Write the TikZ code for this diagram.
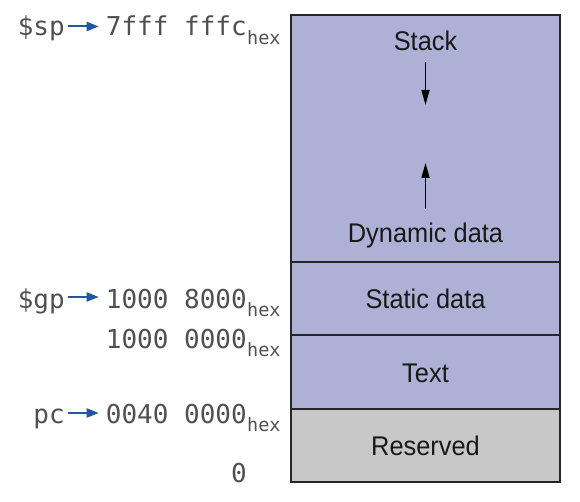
\documentclass[tikz,border=0pt]{standalone}
\usepackage{fontspec}
\setmainfont{Liberation Sans}
\newfontfamily\boxf[FakeStretch=0.94]{Liberation Sans}
\newfontfamily\monof{DejaVu Sans Mono}
\usetikzlibrary{arrows.meta}
\definecolor{purp}{RGB}{174,177,214}
\definecolor{resgray}{RGB}{200,200,200}
\definecolor{arrblue}{RGB}{30,88,164}
\definecolor{labgray}{RGB}{80,80,80}
\tikzset{
  seg/.style={draw=black!85, line width=1.5pt, minimum width=269pt, inner sep=0pt},
  seglbl/.style={font=\boxf\fontsize{27}{31}\selectfont, inner sep=0pt, anchor=base, text=black!90},
  numlbl/.style={font=\monof\fontsize{26}{30}\selectfont, inner sep=0pt, text=labgray},
  hexlbl/.style={font=\monof\fontsize{18.5}{22}\selectfont, inner sep=0pt, text=labgray, anchor=base west},
  reglbl/.style={font=\monof\fontsize{26}{30}\selectfont, inner sep=0pt, text=labgray, anchor=base east},
  barrow/.style={draw=arrblue, line width=2pt, -{Triangle[length=12pt,width=9pt]}},
  karrow/.style={draw=black, line width=1.6pt, -{Triangle[length=15pt,width=8pt]}}
}
\begin{document}
\begin{tikzpicture}[x=1pt,y=-1pt]
\useasboundingbox (0,0) rectangle (580,502);
% memory segments
\node[seg, fill=purp, minimum height=247pt] (sdyn) at (425.5,138.5) {};
\node[seg, fill=purp, minimum height=73pt] (sstat) at (425.5,298.5) {};
\node[seg, fill=purp, minimum height=74pt] (stext) at (425.5,372) {};
\node[seg, fill=resgray, minimum height=73pt] (sres) at (425.5,445.5) {};
% segment labels
\node[seglbl] (stk) at (425.5,51) {Stack};
\node[seglbl] (dyn) at (425.5,242.5) {Dynamic data};
\node[seglbl] (stat) at (425.5,308.5) {Static data};
\node[seglbl] (txt) at (425.5,382) {Text};
\node[seglbl] (res) at (425.5,455.5) {Reserved};
% growth arrows
\coordinate (dtip) at (425.5,105);
\coordinate (utip) at (425.5,163);
\draw[karrow] ([yshift=-11pt]stk.south) -- (dtip);
\draw[karrow] ([yshift=14pt]dyn.north) -- (utip);
% addresses
\node[numlbl, anchor=base east] (nsp) at (247,36) {7fff fffc};
\node[hexlbl] (hsp) at ([yshift=-8.5pt]nsp.base east) {hex};
\node[numlbl, anchor=base east] (ngp) at (247,308) {1000 8000};
\node[hexlbl] (hgp) at ([yshift=-8.5pt]ngp.base east) {hex};
\node[numlbl, anchor=base east] (ntx) at (247,348) {1000 0000};
\node[hexlbl] (htx) at ([yshift=-8.5pt]ntx.base east) {hex};
\node[numlbl, anchor=base east] (npc) at (247,423) {0040 0000};
\node[hexlbl] (hpc) at ([yshift=-8.5pt]npc.base east) {hex};
\node[numlbl, anchor=base east] (nzero) at (247,482) {0};
% registers
\node[reglbl] (lsp) at (65,36) {\$sp};
\node[reglbl] (lgp) at (65,308) {\$gp};
\node[reglbl] (lpc) at (65,423) {pc};
\draw[barrow] ([shift={(3pt,9.5pt)}]lsp.base east) -- ([shift={(-7pt,9.5pt)}]nsp.base west);
\draw[barrow] ([shift={(3pt,11pt)}]lgp.base east) -- ([shift={(-7pt,11pt)}]ngp.base west);
\draw[barrow] ([shift={(3pt,10pt)}]lpc.base east) -- ([shift={(-7pt,10pt)}]npc.base west);
\end{tikzpicture}
\end{document}
